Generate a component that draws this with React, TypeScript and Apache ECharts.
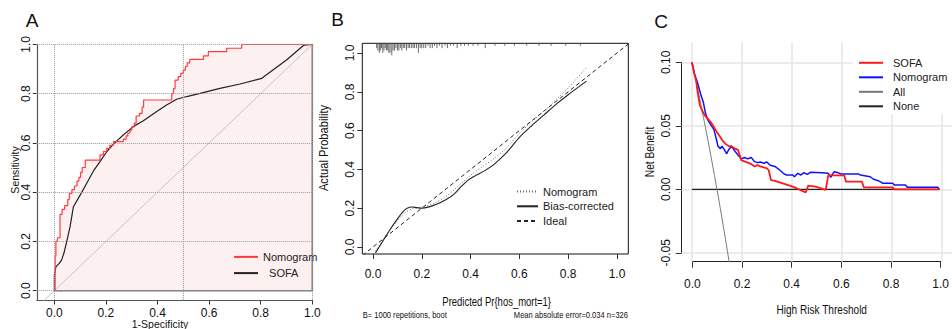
import React, { useEffect, useRef } from 'react';
import * as echarts from 'echarts';

// ---------------- Panel A : ROC ----------------
const rocGridY = [0, 0.2, 0.4, 0.6, 0.8, 1.0];
const rocGridX = [0, 0.5, 1.0];
// [1-specificity, sensitivity] step corners
const nomogramRoc: number[][] = [
  [0, 0], [0.003, 0.14], [0.006, 0.2], [0.012, 0.215], [0.022, 0.31], [0.03, 0.33], [0.04, 0.345],
  [0.052, 0.37], [0.058, 0.395], [0.068, 0.41], [0.078, 0.425], [0.088, 0.445], [0.095, 0.46],
  [0.102, 0.48], [0.108, 0.5], [0.12, 0.53], [0.177, 0.551], [0.19, 0.565], [0.203, 0.578],
  [0.215, 0.59], [0.229, 0.605], [0.267, 0.615], [0.278, 0.628], [0.285, 0.64], [0.293, 0.652],
  [0.3, 0.665], [0.31, 0.68], [0.317, 0.709], [0.33, 0.72], [0.34, 0.745], [0.346, 0.774],
  [0.455, 0.8], [0.462, 0.82], [0.468, 0.855], [0.48, 0.869], [0.49, 0.882], [0.5, 0.895],
  [0.508, 0.91], [0.515, 0.925], [0.525, 0.939], [0.578, 0.953], [0.597, 0.97], [0.668, 0.984],
  [0.726, 1.0], [1.0, 1.0],
];
const sofaRoc: number[][] = [
  [0, 0], [0, 0.064], [0.006, 0.097], [0.019, 0.111], [0.028, 0.124], [0.037, 0.152], [0.048, 0.199],
  [0.061, 0.26], [0.074, 0.341], [0.1, 0.388], [0.125, 0.435], [0.151, 0.485], [0.177, 0.524],
  [0.203, 0.564], [0.229, 0.595], [0.267, 0.632], [0.306, 0.666], [0.345, 0.69], [0.397, 0.727],
  [0.435, 0.754], [0.474, 0.777], [0.513, 0.788], [0.565, 0.801], [0.642, 0.821], [0.72, 0.839],
  [0.804, 0.862], [0.9, 0.936], [0.968, 0.997], [1, 1],
];
const chanceLine = [[-0.2, -0.2], [1, 1]];
const maxAucBorder = [[0, 0], [1, 0], [1, 1]];
const aucNomogramText = 'AUC: 0.794';
const aucSofaText = 'AUC: 0.710';
const pValueText = 'P value = 0.064';

// ---------------- Panel B : calibration ----------------
const calIdeal = [[-0.2, -0.2], [1.2, 1.2]];
const calApparent: number[][] = [
  [0.01, -0.02], [0.04, 0.035], [0.07, 0.09], [0.1, 0.135], [0.13, 0.175], [0.16, 0.197], [0.2, 0.205],
  [0.25, 0.225], [0.3, 0.262], [0.35, 0.315], [0.4, 0.37], [0.45, 0.415], [0.5, 0.46], [0.55, 0.515],
  [0.6, 0.585], [0.65, 0.645], [0.7, 0.7], [0.75, 0.76], [0.8, 0.82], [0.875, 0.925],
];
const calBiasCorrected: number[][] = [
  [0.01, -0.03], [0.04, 0.03], [0.07, 0.09], [0.1, 0.145], [0.125, 0.185], [0.14, 0.2], [0.16, 0.206],
  [0.18, 0.203], [0.2, 0.2], [0.23, 0.207], [0.26, 0.22], [0.3, 0.245], [0.33, 0.27], [0.36, 0.31],
  [0.39, 0.345], [0.42, 0.368], [0.46, 0.395], [0.5, 0.43], [0.55, 0.49], [0.6, 0.565], [0.65, 0.625],
  [0.7, 0.68], [0.75, 0.735], [0.8, 0.785], [0.875, 0.855],
];
// [predicted probability, count] rug along top
const calRug: number[][] = [
  [0.015, 2], [0.02, 3], [0.026, 4], [0.03, 3], [0.035, 2], [0.04, 4], [0.045, 3], [0.05, 2], [0.055, 3],
  [0.06, 3], [0.065, 4], [0.07, 4], [0.077, 5], [0.082, 3], [0.088, 3], [0.094, 2], [0.1, 3], [0.106, 3],
  [0.112, 2], [0.118, 3], [0.124, 2], [0.13, 2], [0.137, 3], [0.144, 2], [0.15, 2], [0.157, 2], [0.164, 2],
  [0.17, 2], [0.178, 2], [0.186, 4], [0.193, 2], [0.2, 2], [0.208, 2], [0.216, 2], [0.225, 1], [0.234, 2],
  [0.243, 2], [0.252, 1], [0.262, 2], [0.272, 1], [0.283, 2], [0.295, 1], [0.305, 2], [0.318, 1], [0.33, 1],
  [0.345, 2], [0.36, 1], [0.375, 1], [0.39, 1], [0.41, 1], [0.43, 1], [0.46, 2], [0.5, 1], [0.54, 1],
  [0.58, 1], [0.63, 1], [0.68, 1], [0.73, 1], [0.79, 1], [0.85, 1],
];
const calFootLeft = 'B= 1000 repetitions, boot';
const calFootRight = 'Mean absolute error=0.034 n=326';

// ---------------- Panel C : decision curve ----------------
const dcaGridX = [0, 0.2, 0.4, 0.6, 0.8, 1.0];
const dcaGridY = [0.1, 0.05, 0, -0.05];
const dcaSofa: number[][] = [
  [0, 0.1], [0.007, 0.093], [0.017, 0.085], [0.023, 0.076], [0.032, 0.066], [0.043, 0.061], [0.056, 0.057],
  [0.066, 0.055], [0.075, 0.053], [0.088, 0.049], [0.1, 0.045], [0.114, 0.041], [0.12, 0.039], [0.133, 0.036],
  [0.146, 0.034], [0.158, 0.034], [0.172, 0.032], [0.184, 0.031], [0.191, 0.027], [0.197, 0.023], [0.21, 0.022],
  [0.223, 0.021], [0.236, 0.02], [0.251, 0.018], [0.262, 0.019], [0.274, 0.018], [0.3, 0.0165], [0.307, 0.015],
  [0.316, 0.0073], [0.332, 0.0066], [0.403, 0.0021], [0.455, -0.0024], [0.465, 0.0029], [0.494, 0.0021],
  [0.535, -0.0005], [0.545, 0.011], [0.609, 0.011], [0.616, 0.006], [0.68, 0.006], [0.687, 0.0016],
  [0.803, 0.0016], [0.809, 0], [0.99, 0],
];
const dcaNomogram: number[][] = [
  [0, 0.1], [0.01, 0.091], [0.023, 0.0835], [0.036, 0.074], [0.045, 0.069], [0.053, 0.061], [0.062, 0.055],
  [0.075, 0.051], [0.088, 0.047], [0.097, 0.04], [0.104, 0.034], [0.114, 0.032], [0.12, 0.034], [0.13, 0.031],
  [0.139, 0.028], [0.146, 0.031], [0.158, 0.034], [0.172, 0.03], [0.184, 0.027], [0.197, 0.024], [0.21, 0.025],
  [0.223, 0.024], [0.238, 0.025], [0.249, 0.022], [0.262, 0.021], [0.274, 0.0215], [0.288, 0.0205],
  [0.3, 0.0215], [0.313, 0.019], [0.332, 0.018], [0.352, 0.015], [0.365, 0.0126], [0.378, 0.0113],
  [0.403, 0.0113], [0.41, 0.0099], [0.423, 0.0126], [0.436, 0.0113], [0.448, 0.0131], [0.461, 0.0118],
  [0.474, 0.0134], [0.519, 0.0131], [0.545, 0.0126], [0.555, 0.0094], [0.564, 0.0126], [0.571, 0.0139],
  [0.584, 0.0131], [0.597, 0.012], [0.667, 0.012], [0.674, 0.0113], [0.713, 0.0099], [0.726, 0.0079],
  [0.745, 0.0068], [0.758, 0.0055], [0.764, 0.0047], [0.803, 0.0047], [0.809, 0.0034], [0.854, 0.0034],
  [0.861, 0.0016], [0.983, 0.0016], [0.989, 0],
];
const dcaAll: number[][] = [
  [0, 0.1], [0.02, 0.082], [0.04, 0.0625], [0.06, 0.0426], [0.08, 0.0217], [0.1, 0], [0.12, -0.0227],
  [0.14, -0.0465], [0.16, -0.071],
];
const dcaNone: number[][] = [[0, 0], [0.99, 0]];

const SANS = "'Liberation Sans', Arial, sans-serif";

const f1 = (v: number) => v.toFixed(1);
const f2 = (v: number) => v.toFixed(2);

const hiddenAxis = (gridIndex: number, min: number, max: number) => ({
  type: 'value', gridIndex, min, max, show: false,
});

const labelAxis = (gridIndex: number, min: number, max: number, interval: number, offset: number,
  margin: number, fmt: (v: number) => string, rotate: number, tickLen: number, showLine: boolean) => ({
  type: 'value', gridIndex, min, max, interval, offset,
  axisLine: { show: showLine, onZero: false, lineStyle: { color: '#222', width: 1 } },
  axisTick: { show: true, inside: false, length: tickLen, lineStyle: { color: '#333', width: 1 } },
  axisLabel: { show: true, color: '#111', fontSize: 12, fontFamily: SANS, margin, rotate, formatter: fmt },
  splitLine: { show: false },
});

const txt = (text: string, x: number, y: number, fontSize: number, opts: any = {}) => ({
  type: 'text', x, y, rotation: opts.rotation || 0, scaleX: opts.scaleX || 1, silent: true,
  style: {
    text, fill: opts.fill || '#111', fontSize, fontFamily: SANS,
    textAlign: opts.align || 'center', align: opts.align || 'center',
    textVerticalAlign: 'middle', verticalAlign: 'middle',
  },
});

const lineLegend = {
  orient: 'vertical', selectedMode: false, itemStyle: { opacity: 0 },
};

const option: any = {
  animation: false,
  backgroundColor: '#fff',
  grid: [
    { left: 36.8, top: 44.3, width: 275.5, height: 255.8 },
    { left: 54.3, top: 44.3, width: 258, height: 246.4 },
    { left: 362.3, top: 43.3, width: 266, height: 210.7, show: true, borderColor: '#111', borderWidth: 1 },
    { left: 373, top: 53, width: 244, height: 194 },
    { left: 681.7, top: 42, width: 279.7, height: 219.7 },
    { left: 692.3, top: 62.3, width: 258.75, height: 190.5 },
  ],
  xAxis: [
    {
      type: 'value', gridIndex: 0, min: -0.068, max: 1,
      axisLine: { show: true, onZero: false, lineStyle: { color: '#555', width: 1.2 } },
      axisTick: { show: false }, axisLabel: { show: false }, splitLine: { show: false },
    },
    labelAxis(1, 0, 1, 0.2, 9.8, 6, f1, 0, 4, false),
    hiddenAxis(2, -0.0439, 1.0463),
    labelAxis(3, 0, 1, 0.2, 7, 14, f1, 0, 5, false),
    hiddenAxis(4, -0.041, 1.04),
    labelAxis(5, 0, 1, 0.2, 8.9, 16, f1, 0, 6, true),
  ],
  yAxis: [
    {
      type: 'value', gridIndex: 0, min: -0.038, max: 1,
      axisLine: { show: true, onZero: false, lineStyle: { color: '#555', width: 1.2 } },
      axisTick: { show: false }, axisLabel: { show: false }, splitLine: { show: false },
    },
    labelAxis(1, 0, 1, 0.2, 17.5, 5, f1, 90, 4, false),
    hiddenAxis(2, -0.036, 1.05),
    labelAxis(3, 0, 1, 0.2, 10.7, 6, f1, 90, 5, false),
    hiddenAxis(4, -0.057, 0.116),
    labelAxis(5, -0.05, 0.1, 0.05, 10.6, 10, f2, 90, 6, true),
  ],
  legend: [
    {
      ...lineLegend,
      data: ['Nomogram', 'SOFA'], left: 233, top: 251.3, padding: 0,
      itemWidth: 24, itemHeight: 14, itemGap: 5,
      formatter: (n: string) => (n === 'SOFA' ? '  SOFA' : n),
      textStyle: { fontSize: 11, fontFamily: SANS, color: '#222' },
    },
    {
      ...lineLegend,
      data: ['B-Nomogram', 'Bias-corrected', 'Ideal'], left: 516, top: 186, padding: 0,
      itemWidth: 21, itemHeight: 14, itemGap: 3.5,
      formatter: (n: string) => n.replace('B-', ''),
      textStyle: { fontSize: 11, fontFamily: SANS, color: '#222' },
    },
    {
      ...lineLegend,
      data: ['C-SOFA', 'C-Nomogram', 'All', 'None'], left: 853, top: 29,
      padding: [28.3, 70, 2.3, 5], backgroundColor: '#fff',
      itemWidth: 24, itemHeight: 12, itemGap: 3.5,
      formatter: (n: string) => n.replace('C-', ''),
      textStyle: { fontSize: 11, fontFamily: SANS, color: '#222', padding: [0, 0, 0, 5] },
    },
  ],
  series: [
    // ---- A ----
    {
      name: 'aucArea', type: 'line', xAxisIndex: 0, yAxisIndex: 0, data: nomogramRoc, step: 'end',
      symbol: 'none', lineStyle: { width: 0, opacity: 0 }, areaStyle: { color: '#fdf0f0', opacity: 1 }, z: 1, silent: true,
    },
    {
      name: 'chance', type: 'line', xAxisIndex: 0, yAxisIndex: 0, data: chanceLine, symbol: 'none',
      lineStyle: { color: '#c4c4c4', width: 1 }, z: 2, silent: true,
      markLine: {
        silent: true, symbol: ['none', 'none'], label: { show: false }, animation: false,
        lineStyle: { color: '#9a9a9a', type: 'dotted', width: 1 },
        data: [...rocGridY.map((v) => ({ yAxis: v })), ...rocGridX.map((v) => ({ xAxis: v }))],
      },
    },
    {
      name: 'maxAuc', type: 'line', xAxisIndex: 0, yAxisIndex: 0, data: maxAucBorder, symbol: 'none',
      lineStyle: { color: '#777', width: 1.6 }, z: 2, silent: true,
    },
    {
      name: 'SOFA', type: 'line', xAxisIndex: 0, yAxisIndex: 0, data: sofaRoc, symbol: 'none',
      lineStyle: { color: '#222', width: 1.2 }, itemStyle: { color: '#222' }, z: 3,
    },
    {
      name: 'Nomogram', type: 'line', xAxisIndex: 0, yAxisIndex: 0, data: nomogramRoc, step: 'end',
      symbol: 'none', lineStyle: { color: '#ff3b3b', width: 1.2 }, itemStyle: { color: '#ff3b3b' }, z: 4,
    },
    // ---- B ----
    {
      name: 'Ideal', type: 'line', xAxisIndex: 2, yAxisIndex: 2, data: calIdeal, symbol: 'none',
      lineStyle: { color: '#222', width: 1, type: [4, 3] }, itemStyle: { color: '#222' }, z: 2,
    },
    {
      name: 'B-Nomogram', type: 'line', xAxisIndex: 2, yAxisIndex: 2, data: calApparent, symbol: 'none',
      smooth: 0.3, lineStyle: { color: '#666', width: 1, type: [1, 2] }, itemStyle: { color: '#666' }, z: 3,
    },
    {
      name: 'Bias-corrected', type: 'line', xAxisIndex: 2, yAxisIndex: 2, data: calBiasCorrected, symbol: 'none',
      smooth: 0.3, lineStyle: { color: '#222', width: 1.1 }, itemStyle: { color: '#777' }, z: 3,
    },
    {
      name: 'rug', type: 'custom', xAxisIndex: 2, yAxisIndex: 2, data: calRug, silent: true, z: 4,
      renderItem: (_p: any, api: any) => {
        const pt = api.coord([api.value(0), 1.05]);
        return {
          type: 'line',
          shape: { x1: pt[0], y1: pt[1], x2: pt[0], y2: pt[1] + api.value(1) * 2.4 },
          style: { stroke: '#444', lineWidth: 0.8 },
        };
      },
    },
    // ---- C ----
    {
      name: 'None', type: 'line', xAxisIndex: 4, yAxisIndex: 4, data: dcaNone, symbol: 'none',
      lineStyle: { color: '#222', width: 1.3 }, itemStyle: { color: '#222' }, z: 2,
      markLine: {
        silent: true, symbol: ['none', 'none'], label: { show: false }, animation: false, z: 1,
        lineStyle: { color: '#e6e6e6', type: 'solid', width: 1.5 },
        data: [...dcaGridX.map((v) => ({ xAxis: v })), ...dcaGridY.map((v) => ({ yAxis: v }))],
      },
    },
    {
      name: 'All', type: 'line', xAxisIndex: 4, yAxisIndex: 4, data: dcaAll, symbol: 'none', smooth: true,
      lineStyle: { color: '#777', width: 1 }, itemStyle: { color: '#777' }, z: 3,
    },
    {
      name: 'C-Nomogram', type: 'line', xAxisIndex: 4, yAxisIndex: 4, data: dcaNomogram, symbol: 'none',
      lineStyle: { color: '#1010ff', width: 1.5 }, itemStyle: { color: '#1010ff' }, z: 4,
    },
    {
      name: 'C-SOFA', type: 'line', xAxisIndex: 4, yAxisIndex: 4, data: dcaSofa, symbol: 'none',
      lineStyle: { color: '#ff1a1a', width: 1.8 }, itemStyle: { color: '#ff1a1a' }, z: 5,
    },
  ],
  graphic: [
    txt('A', 32, 20, 19),
    txt('B', 337.5, 19.5, 19),
    txt('C', 661, 21, 19),
    txt(aucNomogramText, 201, 169, 11, { align: 'left', fill: '#ff3030' }),
    txt(aucSofaText, 201, 194, 11, { align: 'left' }),
    txt(pValueText, 195.7, 237.7, 11, { align: 'left' }),
    txt('Sensitivity', 15, 170, 10.5, { rotation: Math.PI / 2 }),
    txt('1-Specificity', 160, 324, 10.5),
    txt('Actual Probability', 324, 148, 12, { rotation: Math.PI / 2, scaleX: 0.93 }),
    txt('Predicted Pr{hos_mort=1}', 496.7, 301.7, 12, { scaleX: 0.79 }),
    txt(calFootLeft, 362.7, 315, 9, { align: 'left', scaleX: 0.84 }),
    txt(calFootRight, 628, 315, 9, { align: 'right', scaleX: 0.84 }),
    txt('Net Benefit', 650, 152, 12, { rotation: Math.PI / 2, scaleX: 0.85 }),
    txt('High Risk Threshold', 821.7, 310, 12, { scaleX: 0.84 }),
  ],
};

export default function App() {
  const ref = useRef<HTMLDivElement>(null);
  useEffect(() => {
    if (!ref.current) return;
    const chart = echarts.init(ref.current, null, { renderer: 'svg' });
    chart.setOption(option);
    return () => chart.dispose();
  }, []);
  return (
    <div
      ref={ref}
      style={{ position: 'fixed', left: 0, top: 0, width: 952, height: 329, background: '#fff' }}
    />
  );
}
